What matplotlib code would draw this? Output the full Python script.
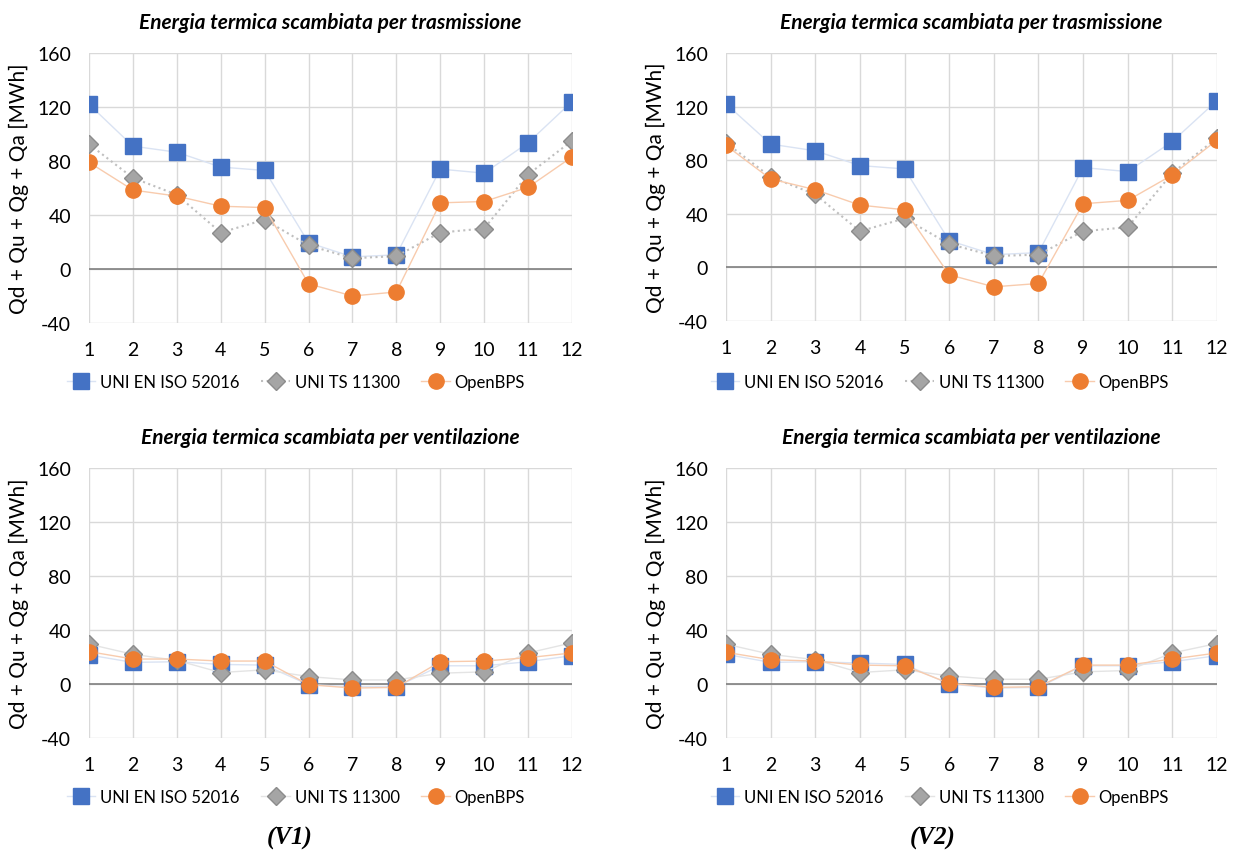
import numpy as np
import matplotlib.pyplot as plt

months = np.arange(1, 13)
month_labels = [str(m) for m in months]

# Trasmissione
iso_tr_v1 = [122, 91, 86.5, 75.5, 73, 19.5, 9, 10.5, 74, 71, 93.5, 124]
ts_tr_v1 = [92.5, 67.5, 55, 27, 36.5, 17.5, 8, 9.5, 27, 30, 70, 95]
bps_tr_v1 = [79, 58.5, 54, 46.5, 45.5, -11, -20, -17, 49, 50, 60.5, 83]

iso_tr_v2 = [122, 92, 87, 76, 73.5, 20, 9.5, 11, 74.5, 71.5, 94, 124.5]
ts_tr_v2 = [93, 67.5, 54.5, 27, 36.5, 17.5, 8.5, 9.5, 27, 30, 70.5, 96.5]
bps_tr_v2 = [91, 66, 58, 46.5, 43, -5.5, -14.5, -12, 47.5, 50, 69, 95]

# Ventilazione
iso_ve_v1 = [21.5, 16, 16.5, 14.5, 14, -0.5, -2, -2, 13.5, 13.5, 16.5, 21]
ts_ve_v1 = [29.5, 22, 17.5, 8.5, 10.5, 5.5, 3, 3, 8, 9, 23, 30.5]
bps_ve_v1 = [24, 18.5, 18.5, 17, 17, -0.5, -3, -2.5, 16.5, 17, 19.5, 23]

iso_ve_v2 = [22, 16, 16.5, 15.5, 14.5, 0, -3, -2.5, 13.5, 13.5, 16.5, 21]
ts_ve_v2 = [29.5, 22, 18, 8.5, 10.5, 6, 3.5, 3.5, 9, 10, 23, 30]
bps_ve_v2 = [23.5, 18, 17, 14, 13.5, 0.5, -2.5, -2, 14, 14, 18.5, 23]

series_names = ["UNI EN ISO 52016", "UNI TS 11300", "OpenBPS"]
title_tr = "Energia termica scambiata per trasmissione"
title_ve = "Energia termica scambiata per ventilazione"
ylabel = "Qd + Qu + Qg + Qa [MWh]"

plt.rcParams['font.family'] = ['Lato', 'DejaVu Sans']
plt.rcParams['axes.unicode_minus'] = False

fig = plt.figure(figsize=(12.36, 8.54), dpi=100)

W, H = 1236, 854


def add_ax(left, right, top, bottom):
    return fig.add_axes([left / W, 1 - bottom / H, (right - left) / W, (bottom - top) / H])


def draw(ax, iso, ts, bps, title, dotted_ts):
    ax.set_xlim(1, 12)
    ax.set_ylim(-40, 160)
    ax.set_yticks(np.arange(-40, 161, 40))
    ax.set_xticks(months)
    ax.set_xticklabels(month_labels)
    ax.grid(True, color='#d9d9d9', linewidth=1)
    ax.set_axisbelow(True)
    for s in ax.spines.values():
        s.set_visible(False)
    ax.tick_params(length=0, labelsize=14, colors='#000000')
    ax.tick_params(axis='x', pad=13)
    ax.tick_params(axis='y', pad=13)
    ax.axhline(0, color='#808080', linewidth=1.2, zorder=1)

    ax.plot(months, iso, color='#dae3f3', linewidth=1, marker='s', markersize=12,
            markerfacecolor='#4472c4', markeredgecolor='#4472c4', label=series_names[0], zorder=3)
    ax.plot(months, ts, color='#bfbfbf' if dotted_ts else '#e4e4e4',
            linestyle=':' if dotted_ts else '-', linewidth=1.5 if dotted_ts else 1,
            marker='D', markersize=9, markerfacecolor='#a5a5a5', markeredgecolor='#8c8c8c',
            label=series_names[1], zorder=4)
    ax.plot(months, bps, color='#f8cbad', linewidth=1, marker='o', markersize=11,
            markerfacecolor='#ed7d31', markeredgecolor='#ed7d31', label=series_names[2], zorder=5)

    ax.set_title(title, fontsize=15, fontweight='bold', style='italic', pad=18)
    ax.set_ylabel(ylabel, fontsize=15, labelpad=6)


ax1 = add_ax(89, 572, 54, 324)
ax2 = add_ax(726, 1217, 54, 322)
ax3 = add_ax(89, 572, 469, 739)
ax4 = add_ax(726, 1217, 469, 739)

draw(ax1, iso_tr_v1, ts_tr_v1, bps_tr_v1, title_tr, True)
draw(ax2, iso_tr_v2, ts_tr_v2, bps_tr_v2, title_tr, True)
draw(ax3, iso_ve_v1, ts_ve_v1, bps_ve_v1, title_ve, False)
draw(ax4, iso_ve_v2, ts_ve_v2, bps_ve_v2, title_ve, False)

for ax, cx, cy in [(ax1, 296, 383), (ax2, 940, 383), (ax3, 296, 798), (ax4, 940, 798)]:
    fig.legend(*ax.get_legend_handles_labels(), loc='center', bbox_to_anchor=(cx / W, 1 - cy / H),
               ncol=3, frameon=False, fontsize=12, handlelength=1.7, columnspacing=1.3,
               handletextpad=0.3)

fig.text(290 / W, 1 - 838 / H, "(V1)", fontsize=18, fontweight='bold', style='italic',
         family='Liberation Serif', ha='center', va='center')
fig.text(933 / W, 1 - 838 / H, "(V2)", fontsize=18, fontweight='bold', style='italic',
         family='Liberation Serif', ha='center', va='center')

fig.savefig("out.png", dpi=100)
